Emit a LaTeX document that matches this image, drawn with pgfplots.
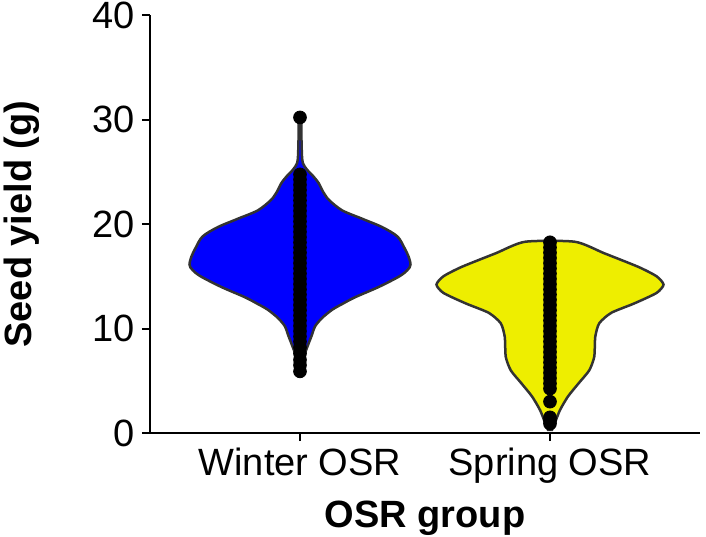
\documentclass[border=0pt]{standalone}
\usepackage{fontspec}
\setmainfont{Liberation Sans}
\usepackage{pgfplots}
\pgfplotsset{compat=1.18}
\definecolor{vblue}{RGB}{0,0,255}
\definecolor{vyellow}{RGB}{238,238,0}
\definecolor{vline}{RGB}{51,51,51}

\begin{document}
\begin{tikzpicture}
\begin{axis}[
    width=275pt, height=209pt, scale only axis,
    xmin=0.4, xmax=2.6, ymin=0, ymax=40,
    axis lines=left,
    axis line style={-, line width=1pt, black},
    xtick={1,2}, xticklabels={Winter OSR, Spring OSR},
    ytick={0,10,20,30,40},
    tick align=outside, major tick length=4pt,
    every tick/.style={black, line width=1pt},
    tick label style={font=\fontsize{19}{22}\selectfont},
    /pgf/number format/assume math mode=true,
    xlabel={OSR group}, ylabel={Seed yield (g)},
    label style={font=\fontsize{19}{22}\selectfont\bfseries},
    xlabel style={at={(axis description cs:0.5,-0.225)}, anchor=base, inner sep=0pt},
    ylabel style={at={(axis description cs:-0.2,0.5)}, anchor=south, inner sep=0pt},
]

%% Winter OSR violin (right side up, left side down)
\addplot[fill=vblue, draw=vline, line width=1.25pt, smooth, tension=0.5] coordinates {
    (1.004,5.6)(1.008,6.5)(1.016,7.3)(1.024,7.9)(1.035,8.6)(1.048,9.4)
    (1.060,10.2)(1.088,11.0)(1.129,11.8)(1.173,12.4)(1.221,13.0)(1.317,14.0)
    (1.398,15.0)(1.430,15.6)(1.442,16.1)(1.434,16.9)(1.418,17.7)(1.390,18.8)
    (1.329,19.7)(1.249,20.5)(1.169,21.3)(1.116,22.3)(1.092,23.1)(1.075,23.9)
    (1.052,24.6)(1.028,25.2)(1.012,25.8)(1.008,26.5)(1.006,28.0)(1.004,30.3)
    (0.996,30.3)(0.994,28.0)(0.992,26.5)(0.988,25.8)(0.972,25.2)(0.948,24.6)
    (0.925,23.9)(0.908,23.1)(0.884,22.3)(0.831,21.3)(0.751,20.5)(0.671,19.7)
    (0.610,18.8)(0.582,17.7)(0.566,16.9)(0.558,16.1)(0.570,15.6)(0.602,15.0)
    (0.683,14.0)(0.779,13.0)(0.827,12.4)(0.871,11.8)(0.912,11.0)(0.940,10.2)
    (0.952,9.4)(0.965,8.6)(0.976,7.9)(0.984,7.3)(0.992,6.5)(0.996,5.6)
} -- cycle;

%% Spring OSR violin
\addplot[fill=vyellow, draw=vline, line width=1.25pt, smooth, tension=0.4] coordinates {
    (2.008,0.3)(2.020,1.0)(2.040,2.2)(2.072,3.5)(2.116,4.8)(2.157,6.0)
    (2.177,7.3)(2.181,9.2)(2.197,10.5)(2.245,11.5)(2.337,12.4)(2.426,13.4)
    (2.454,14.2)(2.426,15.0)(2.353,15.9)(2.217,17.2)(2.100,18.3)
    (1.900,18.3)(1.783,17.2)(1.647,15.9)(1.574,15.0)(1.546,14.2)(1.574,13.4)
    (1.663,12.4)(1.755,11.5)(1.803,10.5)(1.819,9.2)(1.823,7.3)(1.843,6.0)
    (1.884,4.8)(1.928,3.5)(1.960,2.2)(1.980,1.0)(1.992,0.3)
} -- cycle;

%% observations
\addplot[only marks, mark=*, mark size=3.2pt, black] coordinates {
    (1,30.2)(1,24.75)(1,24.25)(1,23.75)(1,23.25)(1,22.75)(1,22.25)(1,21.75)
    (1,21.25)(1,20.75)(1,20.25)(1,19.75)(1,19.25)(1,18.75)(1,18.25)(1,17.75)
    (1,17.25)(1,16.75)(1,16.25)(1,15.75)(1,15.25)(1,14.75)(1,14.25)(1,13.75)
    (1,13.25)(1,12.75)(1,12.25)(1,11.75)(1,11.25)(1,10.75)(1,10.25)(1,9.75)
    (1,9.25)(1,8.75)(1,8.2)(1,7.6)(1,7.0)(1,6.5)(1,5.9)
};
\addplot[only marks, mark=*, mark size=3.2pt, black] coordinates {
    (2,18.25)(2,17.75)(2,17.25)(2,16.75)(2,16.25)(2,15.75)(2,15.25)(2,14.75)
    (2,14.25)(2,13.75)(2,13.25)(2,12.75)(2,12.25)(2,11.75)(2,11.25)(2,10.75)
    (2,10.25)(2,9.75)(2,9.25)(2,8.75)(2,8.25)(2,7.75)(2,7.25)(2,6.75)
    (2,6.25)(2,5.75)(2,5.25)(2,4.75)(2,4.25)(2,3.0)(2,1.5)(2,1.2)(2,0.9)
};

\coordinate (bl) at (rel axis cs:0,0);
\coordinate (tr) at (rel axis cs:1,1);
\end{axis}
\pgfresetboundingbox
\path[use as bounding box] ([shift={(-75pt,-51.5pt)}]bl) rectangle ([shift={(3pt,7.5pt)}]tr);
\end{tikzpicture}
\end{document}
